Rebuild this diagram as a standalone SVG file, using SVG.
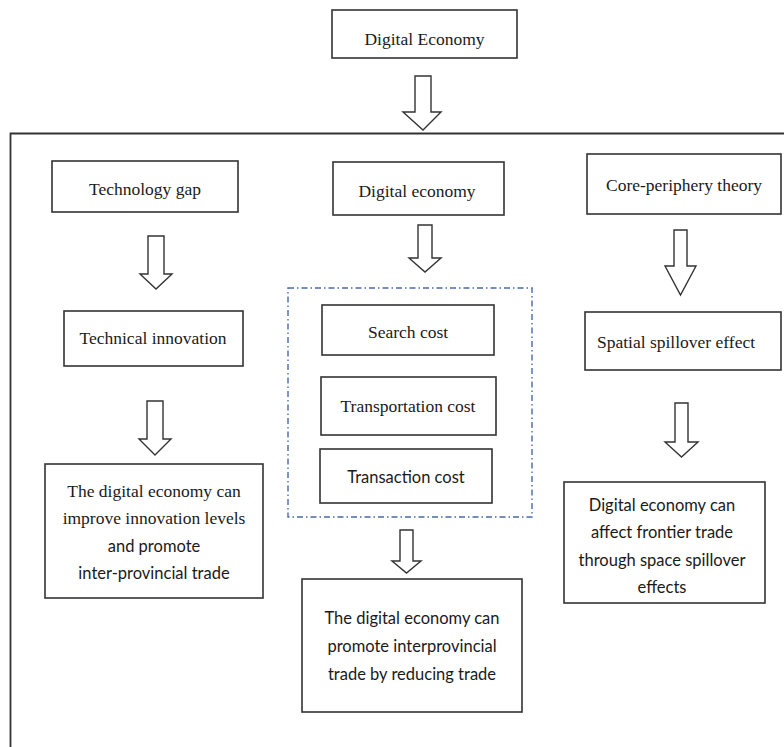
<svg xmlns="http://www.w3.org/2000/svg" width="784" height="747" viewBox="0 0 784 747">
<style>
.box{fill:#fff;stroke:#333;stroke-width:1.6}
.arr{fill:#fff;stroke:#333;stroke-width:1.4;stroke-linejoin:miter}
.s{font-family:'Liberation Serif','Times New Roman',serif;font-size:17.5px;fill:#1a1a1a;text-anchor:middle}
.n{font-family:Lato,'Liberation Sans',sans-serif;font-size:16.5px;fill:#1a1a1a;text-anchor:middle}
.dash{fill:none;stroke:#4a6aa8;stroke-width:1.4;stroke-dasharray:6 3 1.5 3}
</style>
<rect width="784" height="747" fill="#fff"/>
<path d="M10.5 747 V133.5 H784" fill="none" stroke="#333" stroke-width="1.8"/>
<g id="connectors">
<polygon class="arr" points="415,76 431,76 431,112 441,112 423,130 403,112 415,112"/>
<polygon class="arr" points="148,236 164,236 164,274 172,274 156,289 140,274 148,274"/>
<polygon class="arr" points="147,401 163,401 163,439 171,439 155,455 139,439 147,439"/>
<polygon class="arr" points="418,225 432,225 432,258 441,258 425,272 409,258 418,258"/>
<polygon class="arr" points="400,530 413,530 413,561 421,561 406.5,573 392,561 400,561"/>
<polygon class="arr" points="674,230 687,230 687,266 696,266 680.5,295 665,266 674,266"/>
<polygon class="arr" points="675,403 688,403 688,442 698,442 681.5,457 665,442 675,442"/>
</g>
<g id="n-top"><rect class="box" x="332" y="10" width="185" height="48"/><text class="s" font-family="Liberation Serif, serif" x="424.5" y="45">Digital Economy</text></g>
<g id="n-techgap"><rect class="box" x="52" y="161" width="186" height="51"/><text class="s" font-family="Liberation Serif, serif" x="145" y="195">Technology gap</text></g>
<g id="n-techinno"><rect class="box" x="64" y="311" width="179" height="55"/><text class="s" x="153" y="344">Technical innovation</text></g>
<g id="n-left-result"><rect class="box" x="45" y="464" width="218" height="134"/>
<text class="s" x="154" y="497">The digital economy can</text>
<text class="s" x="154" y="524">improve innovation levels</text>
<text class="n" x="154" y="552">and promote</text>
<text class="n" x="154" y="579">inter-provincial trade</text></g>
<g id="n-digeco"><rect class="box" x="333" y="162" width="171" height="53"/><text class="s" x="417" y="197">Digital economy</text></g>
<g id="g-costs"><rect class="dash" x="288" y="288" width="244" height="229"/></g>
<g id="n-search"><rect class="box" x="322" y="305" width="172" height="50"/><text class="s" x="408" y="338">Search cost</text></g>
<g id="n-transport"><rect class="box" x="321" y="377" width="175" height="58"/><text class="s" x="408" y="412">Transportation cost</text></g>
<g id="n-transaction"><rect class="box" x="320" y="449" width="172" height="54"/><text class="n" x="406" y="483">Transaction cost</text></g>
<g id="n-mid-result"><rect class="box" x="302" y="579" width="220" height="133"/>
<text class="n" x="412" y="624">The digital economy can</text>
<text class="n" x="412" y="652">promote interprovincial</text>
<text class="n" x="412" y="680">trade by reducing trade</text></g>
<g id="n-core"><rect class="box" x="587" y="154" width="194" height="60"/><text class="s" x="684" y="191">Core-periphery theory</text></g>
<g id="n-spatial"><rect class="box" x="585" y="312" width="196" height="58"/><text class="s" x="676" y="348">Spatial spillover effect</text></g>
<g id="n-right-result"><rect class="box" x="564" y="482" width="201" height="121"/>
<text class="n" x="662" y="511">Digital economy can</text>
<text class="n" x="662" y="538">affect frontier trade</text>
<text class="n" x="662" y="566">through space spillover</text>
<text class="n" x="662" y="593">effects</text></g>
</svg>
